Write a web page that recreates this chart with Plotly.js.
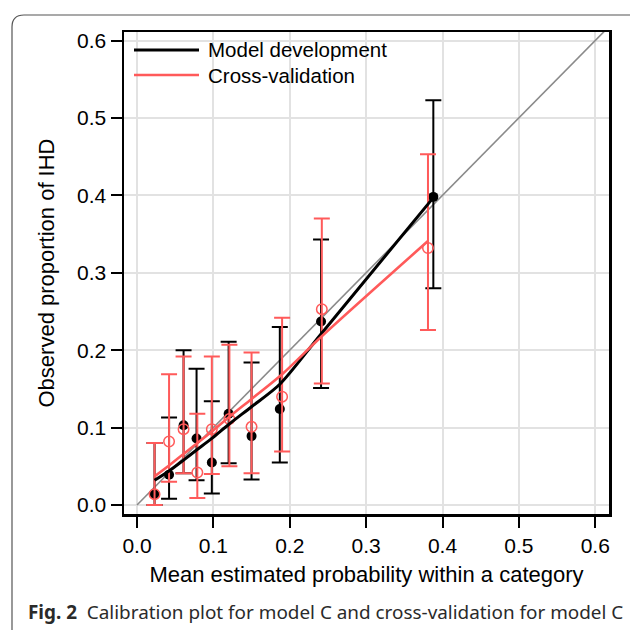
<!DOCTYPE html>
<html>
<head>
<meta charset="utf-8">
<script src="https://cdn.plot.ly/plotly-3.0.1.min.js"></script>
<style>
  html, body { margin: 0; padding: 0; background: #ffffff; }
  #chart { width: 630px; height: 630px; }
</style>
</head>
<body>
<div id="chart"></div>
<script>
// ---- Data ----
const seriesNames = ["Model development", "Cross-validation"];

// Model development (filled black points)
const xDev      = [0.023, 0.042, 0.061, 0.078, 0.098, 0.120, 0.150, 0.187, 0.241, 0.388];
const yDev      = [0.014, 0.039, 0.103, 0.086, 0.055, 0.118, 0.089, 0.124, 0.237, 0.398];
const devUpper  = [0.080, 0.113, 0.200, 0.176, 0.134, 0.211, 0.184, 0.230, 0.343, 0.523];
const devLower  = [0.000, 0.008, 0.041, 0.032, 0.015, 0.054, 0.033, 0.055, 0.151, 0.280];
const devSmooth = [0.032, 0.044, 0.058, 0.071, 0.086, 0.104, 0.127, 0.156, 0.221, 0.397];

// Cross-validation (open red circles)
const xCv      = [0.023, 0.042, 0.061, 0.079, 0.098, 0.121, 0.150, 0.190, 0.242, 0.381];
const yCv      = [0.014, 0.082, 0.098, 0.042, 0.098, 0.111, 0.101, 0.140, 0.253, 0.332];
const cvUpper  = [0.080, 0.169, 0.192, 0.118, 0.192, 0.207, 0.197, 0.242, 0.370, 0.453];
const cvLower  = [0.000, 0.030, 0.041, 0.009, 0.040, 0.050, 0.041, 0.069, 0.157, 0.226];
const cvSmooth = [0.037, 0.051, 0.066, 0.080, 0.095, 0.114, 0.137, 0.169, 0.218, 0.341];

// Reference (perfect calibration) line
const diagX = [0, 0.62];
const diagY = [0, 0.62];

const tickVals = [0, 0.1, 0.2, 0.3, 0.4, 0.5, 0.6];
const tickText = ["0.0", "0.1", "0.2", "0.3", "0.4", "0.5", "0.6"];

const xTitle = "Mean estimated probability within a category";
const yTitle = "Observed proportion of IHD";
const captionBold = "Fig. 2";
const captionText = "Calibration plot for model C and cross-validation for model C";

// ---- Styling ----
const RED = "#ff5a5a";
const FONT = "'Liberation Sans', Arial, Helvetica, sans-serif";

const W = 630, H = 630;
const M = { l: 124, r: 21, t: 32, b: 116 };
const PW = W - M.l - M.r, PH = H - M.t - M.b;
const px2x = p => (p - M.l) / PW;
const px2y = p => (H - M.b - p) / PH;

const diff = (a, b) => a.map((v, i) => v - b[i]);

const traces = [
  { x: diagX, y: diagY, mode: "lines", type: "scatter",
    line: { color: "#8a8a8a", width: 1.6 }, showlegend: false, hoverinfo: "skip" },

  { x: xDev, y: yDev, mode: "markers", type: "scatter", showlegend: false,
    marker: { color: "#000000", size: 10 },
    error_y: { type: "data", symmetric: false, array: diff(devUpper, yDev),
               arrayminus: diff(yDev, devLower), color: "#000000", thickness: 2, width: 8 } },

  { x: xCv, y: yCv, mode: "markers", type: "scatter", showlegend: false,
    marker: { color: RED, size: 10.5, symbol: "circle-open", line: { width: 1.5 } },
    error_y: { type: "data", symmetric: false, array: diff(cvUpper, yCv),
               arrayminus: diff(yCv, cvLower), color: RED, thickness: 2, width: 8 } },

  { x: xDev, y: devSmooth, mode: "lines", type: "scatter", name: seriesNames[0], showlegend: false,
    line: { color: "#000000", width: 3, shape: "spline", smoothing: 0.8 } },

  { x: xCv, y: cvSmooth, mode: "lines", type: "scatter", name: seriesNames[1], showlegend: false,
    line: { color: RED, width: 2.6, shape: "spline", smoothing: 0.8 } }
];

const axisCommon = {
  tickmode: "array", tickvals: tickVals, ticktext: tickText,
  showgrid: true, gridcolor: "#e2e2e2", gridwidth: 2,
  zeroline: false, showline: true, linecolor: "#000000", linewidth: 2.5, mirror: true,
  ticks: "outside", ticklen: 11, tickwidth: 2, tickcolor: "#000000",
  tickfont: { family: FONT, size: 21, color: "#000000" }
};

// legend drawn with shapes + annotations to match the reference spacing
const legendRows = [
  { name: seriesNames[0], color: "#000000", width: 3, yPx: 50 },
  { name: seriesNames[1], color: RED, width: 2.6, yPx: 75 }
];
const legendShapes = legendRows.map(r => ({
  type: "line", xref: "paper", yref: "paper",
  x0: px2x(134), x1: px2x(199), y0: px2y(r.yPx), y1: px2y(r.yPx),
  line: { color: r.color, width: r.width }
}));
const legendAnns = legendRows.map(r => ({
  xref: "paper", yref: "paper", x: px2x(206), y: px2y(r.yPx),
  xanchor: "left", yanchor: "middle", showarrow: false,
  text: r.name, font: { family: FONT, size: 20.5, color: "#000000" }
}));

const layout = {
  width: W, height: H,
  margin: M,
  showlegend: false,
  paper_bgcolor: "#ffffff", plot_bgcolor: "#ffffff",
  font: { family: FONT, size: 20, color: "#000000" },
  xaxis: Object.assign({}, axisCommon, {
    range: [-0.017, 0.618],
    title: { text: xTitle, font: { family: FONT, size: 22, color: "#000000" }, standoff: 11 }
  }),
  yaxis: Object.assign({}, axisCommon, {
    range: [-0.0116, 0.611],
    title: { text: yTitle, font: { family: FONT, size: 22, color: "#000000" }, standoff: 17 }
  }),
  shapes: [
    { type: "path", xref: "paper", yref: "paper",
      path: "M " + px2x(12) + "," + px2y(632) +
            " L " + px2x(12) + "," + px2y(27) +
            " Q " + px2x(12) + "," + px2y(15) + " " + px2x(24) + "," + px2y(15) +
            " L " + px2x(640) + "," + px2y(15),
      line: { color: "#555555", width: 1.2 } }
  ].concat(legendShapes),
  annotations: [
    { xref: "paper", yref: "paper", x: px2x(26), y: px2y(612), xanchor: "left", yanchor: "middle",
      showarrow: false, align: "left",
      text: "<b>" + captionBold + "</b>  " + captionText,
      font: { family: "'Noto Sans', sans-serif", size: 18.9, color: "#2a2a2a" } }
  ].concat(legendAnns)
};

Plotly.newPlot("chart", traces, layout, { displayModeBar: false, staticPlot: true });
</script>
</body>
</html>
